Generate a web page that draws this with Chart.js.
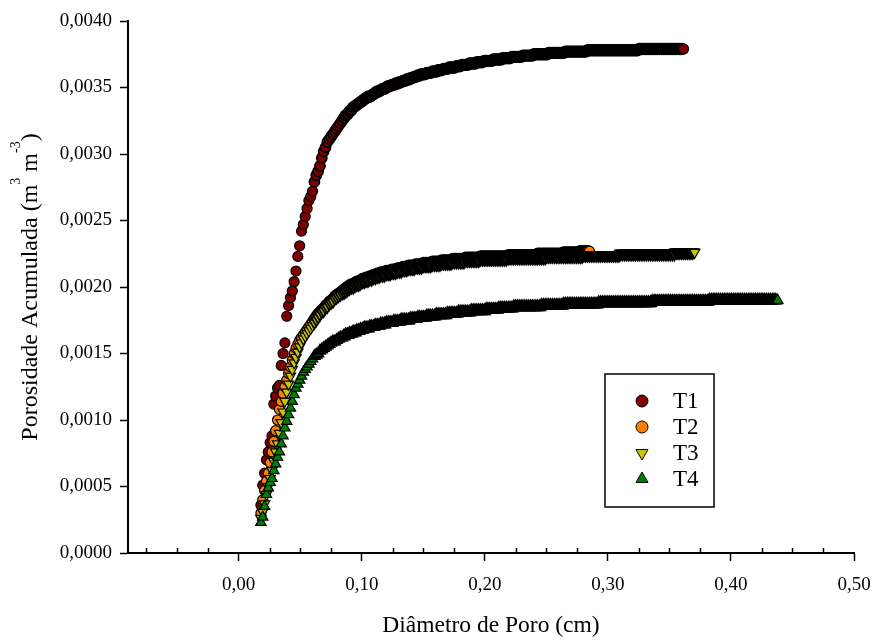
<!DOCTYPE html>
<html>
<head>
<meta charset="utf-8">
<script src="https://cdn.jsdelivr.net/npm/chart.js@4.4.1/dist/chart.umd.min.js"></script>
<style>
  html, body { margin: 0; padding: 0; background: #fff; }
  canvas { display: block; }
</style>
</head>
<body>
<canvas id="chart" width="872" height="642"></canvas>
<script>
// Diâmetro de poro (cm) - grade comum às quatro séries
const diametro = [
  0.018, 0.0195, 0.021, 0.0225, 0.024, 0.0255, 0.027, 0.0285, 0.03, 0.0315,
  0.033, 0.0345, 0.036, 0.0375, 0.039, 0.0405, 0.042, 0.0435, 0.045, 0.0465,
  0.048, 0.0495, 0.051, 0.0525, 0.054, 0.0555, 0.057, 0.0585, 0.06, 0.0615,
  0.063, 0.0645, 0.066, 0.0675, 0.069, 0.0705, 0.072, 0.0735, 0.075, 0.0765,
  0.078, 0.0795, 0.081, 0.0825, 0.084, 0.0855, 0.087, 0.0885, 0.09, 0.0915,
  0.093, 0.0945, 0.096, 0.0975, 0.099, 0.1005, 0.102, 0.1035, 0.105, 0.1065,
  0.108, 0.1095, 0.111, 0.1125, 0.114, 0.1155, 0.117, 0.1185, 0.12, 0.1215,
  0.123, 0.1245, 0.126, 0.1275, 0.129, 0.1305, 0.132, 0.1335, 0.135, 0.1365,
  0.138, 0.1395, 0.141, 0.1425, 0.144, 0.1455, 0.147, 0.1485, 0.15, 0.1515,
  0.153, 0.1545, 0.156, 0.1575, 0.159, 0.1605, 0.162, 0.1635, 0.165, 0.1665,
  0.168, 0.1695, 0.171, 0.1725, 0.174, 0.1755, 0.177, 0.1785, 0.18, 0.1815,
  0.183, 0.1845, 0.186, 0.1875, 0.189, 0.1905, 0.192, 0.1935, 0.195, 0.1965,
  0.198, 0.1995, 0.201, 0.2025, 0.204, 0.2055, 0.207, 0.2085, 0.21, 0.2115,
  0.213, 0.2145, 0.216, 0.2175, 0.219, 0.2205, 0.222, 0.2235, 0.225, 0.2265,
  0.228, 0.2295, 0.231, 0.2325, 0.234, 0.2355, 0.237, 0.2385, 0.24, 0.2415,
  0.243, 0.2445, 0.246, 0.2475, 0.249, 0.2505, 0.252, 0.2535, 0.255, 0.2565,
  0.258, 0.2595, 0.261, 0.2625, 0.264, 0.2655, 0.267, 0.2685, 0.27, 0.2715,
  0.273, 0.2745, 0.276, 0.2775, 0.279, 0.2805, 0.282, 0.2835, 0.285, 0.2865,
  0.288, 0.2895, 0.291, 0.2925, 0.294, 0.2955, 0.297, 0.2985, 0.3, 0.3015,
  0.303, 0.3045, 0.306, 0.3075, 0.309, 0.3105, 0.312, 0.3135, 0.315, 0.3165,
  0.318, 0.3195, 0.321, 0.3225, 0.324, 0.3255, 0.327, 0.3285, 0.33, 0.3315,
  0.333, 0.3345, 0.336, 0.3375, 0.339, 0.3405, 0.342, 0.3435, 0.345, 0.3465,
  0.348, 0.3495, 0.351, 0.3525, 0.354, 0.3555, 0.357, 0.3585, 0.36, 0.3615,
  0.363, 0.3645, 0.366, 0.3675, 0.369, 0.3705, 0.372, 0.3735, 0.375, 0.3765,
  0.378, 0.3795, 0.381, 0.3825, 0.384, 0.3855, 0.387, 0.3885, 0.39, 0.3915,
  0.393, 0.3945, 0.396, 0.3975, 0.399, 0.4005, 0.402, 0.4035, 0.405, 0.4065,
  0.408, 0.4095, 0.411, 0.4125, 0.414, 0.4155, 0.417, 0.4185, 0.42, 0.4215,
  0.423, 0.4245, 0.426, 0.4275, 0.429, 0.4305, 0.432, 0.4335, 0.435, 0.4365,
  0.438
];

// Porosidade acumulada (m3 m-3)
const t1 = [
  0.00036, 0.00051, 0.00060, 0.00070, 0.00076, 0.00083, 0.00088, 0.00112, 0.00118, 0.00124,
  0.00126, 0.00141, 0.00150, 0.00158, 0.00178, 0.00186, 0.00192, 0.00197, 0.00204, 0.00212,
  0.00223, 0.00231, 0.00242, 0.00247, 0.00253, 0.00259, 0.00265, 0.00268, 0.00272, 0.00279,
  0.00284, 0.00287, 0.00291, 0.00297, 0.00302, 0.00305, 0.00309, 0.00311, 0.00313, 0.00315,
  0.00317, 0.00319, 0.00321, 0.00323, 0.00325, 0.00327, 0.00329, 0.00330, 0.00332, 0.00333,
  0.00335, 0.00336, 0.00337, 0.00338, 0.00339, 0.00340, 0.00341, 0.00342, 0.00343, 0.00343,
  0.00344, 0.00345, 0.00346, 0.00347, 0.00347, 0.00348, 0.00349, 0.00349, 0.00350, 0.00351,
  0.00351, 0.00352, 0.00352, 0.00353, 0.00353, 0.00354, 0.00354, 0.00355, 0.00355, 0.00356,
  0.00356, 0.00357, 0.00357, 0.00358, 0.00358, 0.00359, 0.00359, 0.00360, 0.00360, 0.00360,
  0.00361, 0.00361, 0.00361, 0.00362, 0.00362, 0.00362, 0.00363, 0.00363, 0.00363, 0.00364,
  0.00364, 0.00364, 0.00365, 0.00365, 0.00365, 0.00365, 0.00366, 0.00366, 0.00366, 0.00367,
  0.00367, 0.00367, 0.00367, 0.00368, 0.00368, 0.00368, 0.00368, 0.00369, 0.00369, 0.00369,
  0.00369, 0.00370, 0.00370, 0.00370, 0.00370, 0.00370, 0.00371, 0.00371, 0.00371, 0.00371,
  0.00371, 0.00372, 0.00372, 0.00372, 0.00372, 0.00372, 0.00373, 0.00373, 0.00373, 0.00373,
  0.00373, 0.00373, 0.00374, 0.00374, 0.00374, 0.00374, 0.00374, 0.00374, 0.00375, 0.00375,
  0.00375, 0.00375, 0.00375, 0.00375, 0.00375, 0.00375, 0.00376, 0.00376, 0.00376, 0.00376,
  0.00376, 0.00376, 0.00376, 0.00376, 0.00376, 0.00377, 0.00377, 0.00377, 0.00377, 0.00377,
  0.00377, 0.00377, 0.00377, 0.00377, 0.00377, 0.00377, 0.00377, 0.00378, 0.00378, 0.00378,
  0.00378, 0.00378, 0.00378, 0.00378, 0.00378, 0.00378, 0.00378, 0.00378, 0.00378, 0.00378,
  0.00378, 0.00378, 0.00378, 0.00378, 0.00378, 0.00378, 0.00378, 0.00378, 0.00378, 0.00378,
  0.00378, 0.00378, 0.00378, 0.00378, 0.00378, 0.00379, 0.00379, 0.00379, 0.00379, 0.00379,
  0.00379, 0.00379, 0.00379, 0.00379, 0.00379, 0.00379, 0.00379, 0.00379, 0.00379, 0.00379,
  0.00379, 0.00379, 0.00379, 0.00379, 0.00379, 0.00379, 0.00379, 0.00379, 0.00379, 0.00379
];
const t2 = [
  0.00030, 0.00040, 0.00047, 0.00054, 0.00060, 0.00068, 0.00076, 0.00084, 0.00092, 0.00100,
  0.00108, 0.00114, 0.00120, 0.00125, 0.00130, 0.00135, 0.00140, 0.00145, 0.00150, 0.00154,
  0.00157, 0.00160, 0.00162, 0.00164, 0.00166, 0.00168, 0.00170, 0.00172, 0.00174, 0.00176,
  0.00178, 0.00180, 0.00181, 0.00183, 0.00184, 0.00186, 0.00187, 0.00189, 0.00190, 0.00191,
  0.00193, 0.00194, 0.00195, 0.00196, 0.00197, 0.00198, 0.00199, 0.00200, 0.00201, 0.00202,
  0.00202, 0.00203, 0.00204, 0.00204, 0.00205, 0.00206, 0.00206, 0.00207, 0.00207, 0.00208,
  0.00208, 0.00209, 0.00209, 0.00210, 0.00210, 0.00211, 0.00211, 0.00211, 0.00212, 0.00212,
  0.00212, 0.00213, 0.00213, 0.00213, 0.00214, 0.00214, 0.00214, 0.00215, 0.00215, 0.00215,
  0.00216, 0.00216, 0.00216, 0.00216, 0.00217, 0.00217, 0.00217, 0.00217, 0.00218, 0.00218,
  0.00218, 0.00218, 0.00218, 0.00219, 0.00219, 0.00219, 0.00219, 0.00219, 0.00220, 0.00220,
  0.00220, 0.00220, 0.00220, 0.00220, 0.00221, 0.00221, 0.00221, 0.00221, 0.00221, 0.00221,
  0.00221, 0.00222, 0.00222, 0.00222, 0.00222, 0.00222, 0.00222, 0.00222, 0.00222, 0.00223,
  0.00223, 0.00223, 0.00223, 0.00223, 0.00223, 0.00223, 0.00223, 0.00223, 0.00223, 0.00223,
  0.00223, 0.00223, 0.00223, 0.00223, 0.00224, 0.00224, 0.00224, 0.00224, 0.00224, 0.00224,
  0.00224, 0.00224, 0.00224, 0.00224, 0.00224, 0.00224, 0.00224, 0.00224, 0.00224, 0.00224,
  0.00225, 0.00225, 0.00225, 0.00225, 0.00225, 0.00225, 0.00225, 0.00225, 0.00225, 0.00225,
  0.00225, 0.00225, 0.00225, 0.00225, 0.00226, 0.00226, 0.00226, 0.00226, 0.00226, 0.00226,
  0.00226, 0.00226, 0.00226, 0.00227, 0.00227, 0.00227, 0.00227, 0.00227, 0.00227
];
const t3 = [
  0.00026, 0.00031, 0.00037, 0.00044, 0.00050, 0.00056, 0.00062, 0.00069, 0.00076, 0.00082,
  0.00090, 0.00098, 0.00106, 0.00114, 0.00121, 0.00127, 0.00133, 0.00138, 0.00143, 0.00147,
  0.00151, 0.00155, 0.00158, 0.00161, 0.00163, 0.00165, 0.00167, 0.00169, 0.00171, 0.00173,
  0.00175, 0.00177, 0.00179, 0.00181, 0.00182, 0.00184, 0.00185, 0.00187, 0.00188, 0.00189,
  0.00191, 0.00192, 0.00193, 0.00194, 0.00195, 0.00196, 0.00197, 0.00198, 0.00199, 0.00200,
  0.00200, 0.00201, 0.00202, 0.00202, 0.00203, 0.00204, 0.00204, 0.00205, 0.00205, 0.00206,
  0.00206, 0.00207, 0.00207, 0.00208, 0.00208, 0.00209, 0.00209, 0.00209, 0.00210, 0.00210,
  0.00210, 0.00211, 0.00211, 0.00211, 0.00212, 0.00212, 0.00212, 0.00213, 0.00213, 0.00213,
  0.00214, 0.00214, 0.00214, 0.00214, 0.00215, 0.00215, 0.00215, 0.00215, 0.00216, 0.00216,
  0.00216, 0.00216, 0.00216, 0.00217, 0.00217, 0.00217, 0.00217, 0.00217, 0.00218, 0.00218,
  0.00218, 0.00218, 0.00218, 0.00218, 0.00219, 0.00219, 0.00219, 0.00219, 0.00219, 0.00219,
  0.00219, 0.00220, 0.00220, 0.00220, 0.00220, 0.00220, 0.00220, 0.00220, 0.00220, 0.00221,
  0.00221, 0.00221, 0.00221, 0.00221, 0.00221, 0.00221, 0.00221, 0.00221, 0.00221, 0.00221,
  0.00221, 0.00221, 0.00221, 0.00221, 0.00222, 0.00222, 0.00222, 0.00222, 0.00222, 0.00222,
  0.00222, 0.00222, 0.00222, 0.00222, 0.00222, 0.00222, 0.00222, 0.00222, 0.00222, 0.00222,
  0.00222, 0.00222, 0.00222, 0.00222, 0.00222, 0.00223, 0.00223, 0.00223, 0.00223, 0.00223,
  0.00223, 0.00223, 0.00223, 0.00223, 0.00223, 0.00223, 0.00223, 0.00223, 0.00223, 0.00223,
  0.00223, 0.00223, 0.00223, 0.00223, 0.00223, 0.00224, 0.00224, 0.00224, 0.00224, 0.00224,
  0.00224, 0.00224, 0.00224, 0.00224, 0.00224, 0.00224, 0.00224, 0.00224, 0.00224, 0.00224,
  0.00224, 0.00224, 0.00224, 0.00224, 0.00224, 0.00225, 0.00225, 0.00225, 0.00225, 0.00225,
  0.00225, 0.00225, 0.00225, 0.00225, 0.00225, 0.00225, 0.00225, 0.00225, 0.00225, 0.00225,
  0.00225, 0.00225, 0.00225, 0.00225, 0.00225, 0.00225, 0.00225, 0.00225, 0.00225, 0.00225,
  0.00225, 0.00225, 0.00225, 0.00225, 0.00225, 0.00226, 0.00226, 0.00226, 0.00226, 0.00226,
  0.00226, 0.00226, 0.00226, 0.00226, 0.00226, 0.00226
];
const t4 = [
  0.00023, 0.00027, 0.00035, 0.00044, 0.00049, 0.00053, 0.00056, 0.00062, 0.00067, 0.00072,
  0.00076, 0.00082, 0.00088, 0.00094, 0.00099, 0.00104, 0.00109, 0.00114, 0.00119, 0.00124,
  0.00127, 0.00130, 0.00133, 0.00136, 0.00138, 0.00140, 0.00142, 0.00144, 0.00146, 0.00148,
  0.00149, 0.00150, 0.00152, 0.00153, 0.00154, 0.00155, 0.00156, 0.00157, 0.00158, 0.00159,
  0.00159, 0.00160, 0.00161, 0.00162, 0.00162, 0.00163, 0.00164, 0.00164, 0.00165, 0.00165,
  0.00166, 0.00166, 0.00167, 0.00167, 0.00168, 0.00168, 0.00169, 0.00169, 0.00169, 0.00170,
  0.00170, 0.00170, 0.00171, 0.00171, 0.00171, 0.00172, 0.00172, 0.00172, 0.00173, 0.00173,
  0.00173, 0.00173, 0.00174, 0.00174, 0.00174, 0.00174, 0.00175, 0.00175, 0.00175, 0.00175,
  0.00175, 0.00176, 0.00176, 0.00176, 0.00176, 0.00177, 0.00177, 0.00177, 0.00177, 0.00177,
  0.00178, 0.00178, 0.00178, 0.00178, 0.00178, 0.00179, 0.00179, 0.00179, 0.00179, 0.00179,
  0.00179, 0.00180, 0.00180, 0.00180, 0.00180, 0.00180, 0.00180, 0.00181, 0.00181, 0.00181,
  0.00181, 0.00181, 0.00181, 0.00181, 0.00182, 0.00182, 0.00182, 0.00182, 0.00182, 0.00182,
  0.00182, 0.00182, 0.00183, 0.00183, 0.00183, 0.00183, 0.00183, 0.00183, 0.00183, 0.00184,
  0.00184, 0.00184, 0.00184, 0.00184, 0.00184, 0.00184, 0.00184, 0.00185, 0.00185, 0.00185,
  0.00185, 0.00185, 0.00185, 0.00185, 0.00185, 0.00185, 0.00185, 0.00185, 0.00185, 0.00185,
  0.00185, 0.00185, 0.00186, 0.00186, 0.00186, 0.00186, 0.00186, 0.00186, 0.00186, 0.00186,
  0.00186, 0.00186, 0.00186, 0.00186, 0.00187, 0.00187, 0.00187, 0.00187, 0.00187, 0.00187,
  0.00187, 0.00187, 0.00187, 0.00187, 0.00187, 0.00187, 0.00187, 0.00187, 0.00187, 0.00187,
  0.00187, 0.00187, 0.00187, 0.00188, 0.00188, 0.00188, 0.00188, 0.00188, 0.00188, 0.00188,
  0.00188, 0.00188, 0.00188, 0.00188, 0.00188, 0.00188, 0.00188, 0.00188, 0.00188, 0.00188,
  0.00188, 0.00188, 0.00188, 0.00188, 0.00188, 0.00188, 0.00188, 0.00188, 0.00188, 0.00188,
  0.00188, 0.00188, 0.00189, 0.00189, 0.00189, 0.00189, 0.00189, 0.00189, 0.00189, 0.00189,
  0.00189, 0.00189, 0.00189, 0.00189, 0.00189, 0.00189, 0.00189, 0.00189, 0.00189, 0.00189,
  0.00189, 0.00189, 0.00189, 0.00189, 0.00189, 0.00189, 0.00189, 0.00189, 0.00189, 0.00189,
  0.00189, 0.00189, 0.00189, 0.00190, 0.00190, 0.00190, 0.00190, 0.00190, 0.00190, 0.00190,
  0.00190, 0.00190, 0.00190, 0.00190, 0.00190, 0.00190, 0.00190, 0.00190, 0.00190, 0.00190,
  0.00190, 0.00190, 0.00190, 0.00190, 0.00190, 0.00190, 0.00190, 0.00190, 0.00190, 0.00190,
  0.00190, 0.00190, 0.00190, 0.00190, 0.00190, 0.00190, 0.00190, 0.00190, 0.00190, 0.00190,
  0.00190
];

const seriesLabels = ['T1', 'T2', 'T3', 'T4'];
const xTicks = [0, 0.1, 0.2, 0.3, 0.4, 0.5];
const xMinorTicks = [-0.075, -0.05, -0.025, 0.025, 0.05, 0.075, 0.125, 0.15, 0.175,
  0.225, 0.25, 0.275, 0.325, 0.35, 0.375, 0.425, 0.45, 0.475];
const yTicks = [0, 0.0005, 0.001, 0.0015, 0.002, 0.0025, 0.003, 0.0035, 0.004];

const FONT = '"Liberation Serif", "Times New Roman", serif';
Chart.defaults.color = '#000';
Chart.defaults.font.family = FONT;
Chart.defaults.font.size = 19;

const toPoints = (ys) => ys.map((y, i) => ({ x: diametro[i], y }));

const styles = [
  { pointStyle: 'circle', pointRotation: 0, pointRadius: 5, pointBackgroundColor: '#800000', order: 4 },
  { pointStyle: 'circle', pointRotation: 0, pointRadius: 5, pointBackgroundColor: '#ff8000', order: 3 },
  { pointStyle: 'triangle', pointRotation: 180, pointRadius: 6, pointBackgroundColor: '#c8c800', order: 2 },
  { pointStyle: 'triangle', pointRotation: 0, pointRadius: 6, pointBackgroundColor: '#008000', order: 1 },
];

// onde os marcadores se amontoam o contorno fica mais grosso (faixa preta)
const borderFor = (c) => {
  const last = c.dataset.data.length - 1;
  if (!c.raw || c.dataIndex === last) return 1.2;
  if (c.raw.x > 0.085) return 2.4;
  if (c.raw.x > 0.06) return 1.8;
  return 1.2;
};

const datasets = [t1, t2, t3, t4].map((ys, i) => ({
  label: seriesLabels[i],
  data: toPoints(ys),
  ...styles[i],
  pointBorderColor: '#000',
  pointBorderWidth: borderFor,
  pointHoverRadius: styles[i].pointRadius,
  showLine: false,
}));

// marcas secundárias do eixo x, voltadas para dentro
const minorTicks = {
  id: 'minorTicks',
  afterDraw(chart) {
    const { ctx, chartArea } = chart;
    const scale = chart.scales.x;
    ctx.save();
    ctx.strokeStyle = '#000';
    ctx.lineWidth = 1.5;
    ctx.beginPath();
    xMinorTicks.forEach((v) => {
      const px = Math.round(scale.getPixelForValue(v)) + 0.5;
      ctx.moveTo(px, chartArea.bottom);
      ctx.lineTo(px, chartArea.bottom - 5);
    });
    ctx.stroke();
    ctx.restore();
  },
};

// título do eixo y com expoentes
const yTitle = {
  id: 'yTitle',
  afterDraw(chart) {
    const { ctx, chartArea } = chart;
    const parts = [
      { t: 'Porosidade Acumulada (m', sup: false },
      { t: '3', sup: true },
      { t: ' m', sup: false },
      { t: '-3', sup: true },
      { t: ')', sup: false },
    ];
    const base = '24px ' + FONT;
    const small = '14px ' + FONT;
    ctx.save();
    let total = 0;
    parts.forEach((p) => {
      ctx.font = p.sup ? small : base;
      p.w = ctx.measureText(p.t).width;
      total += p.w;
    });
    ctx.translate(37, (chartArea.top + chartArea.bottom) / 2);
    ctx.rotate(-Math.PI / 2);
    ctx.fillStyle = '#000';
    ctx.textBaseline = 'alphabetic';
    let cx = -total / 2;
    parts.forEach((p) => {
      ctx.font = p.sup ? small : base;
      ctx.fillText(p.t, cx, p.sup ? -17 : 0);
      cx += p.w;
    });
    ctx.restore();
  },
};

// legenda em caixa dentro da área do gráfico
const legendBox = {
  id: 'legendBox',
  afterDraw(chart) {
    const { ctx } = chart;
    const box = { x: 605, y: 374, w: 109, h: 133 };
    ctx.save();
    ctx.strokeStyle = '#000';
    ctx.lineWidth = 1.5;
    ctx.strokeRect(box.x, box.y, box.w, box.h);
    ctx.font = '23px ' + FONT;
    ctx.textBaseline = 'middle';
    chart.data.datasets.forEach((ds, i) => {
      const cy = box.y + 27 + i * 26;
      ctx.fillStyle = ds.pointBackgroundColor;
      ctx.strokeStyle = '#000';
      ctx.lineWidth = 1;
      Chart.helpers.drawPoint(ctx, {
        pointStyle: ds.pointStyle,
        rotation: ds.pointRotation,
        radius: ds.pointRadius + 1,
        borderWidth: 1.2,
      }, box.x + 37, cy);
      ctx.fillStyle = '#000';
      ctx.fillText(ds.label, box.x + 68, cy + 1);
    });
    ctx.restore();
  },
};

new Chart(document.getElementById('chart'), {
  type: 'scatter',
  data: { datasets },
  options: {
    responsive: false,
    animation: false,
    devicePixelRatio: 1,
    layout: { padding: { top: 21, right: 18, left: 0, bottom: 0 } },
    plugins: { legend: { display: false }, tooltip: { enabled: false } },
    scales: {
      x: {
        type: 'linear',
        min: -0.09,
        max: 0.5,
        afterBuildTicks: (s) => { s.ticks = xTicks.map((v) => ({ value: v })); },
        afterFit: (s) => {
          s.height = 89;
          s.paddingLeft = 0;
          s.paddingRight = 0;
        },
        ticks: {
          padding: 13,
          maxRotation: 0,
          autoSkip: false,
          callback: (v) => v.toFixed(2).replace('.', ','),
        },
        grid: { drawOnChartArea: false, tickLength: 8, tickWidth: 1.5, tickColor: '#000' },
        border: { color: '#000', width: 2 },
        title: {
          display: true,
          text: 'Diâmetro de Poro (cm)',
          font: { size: 23.5 },
          padding: { top: 0, bottom: 2 },
        },
      },
      y: {
        type: 'linear',
        min: 0,
        max: 0.004,
        afterBuildTicks: (s) => { s.ticks = yTicks.map((v) => ({ value: v })); },
        afterFit: (s) => { s.width = 128; },
        ticks: {
          padding: 8,
          autoSkip: false,
          callback: (v) => v.toFixed(4).replace('.', ','),
        },
        grid: { drawOnChartArea: false, tickLength: 8, tickWidth: 1.5, tickColor: '#000' },
        border: { color: '#000', width: 2 },
      },
    },
  },
  plugins: [minorTicks, yTitle, legendBox],
});
</script>
</body>
</html>
